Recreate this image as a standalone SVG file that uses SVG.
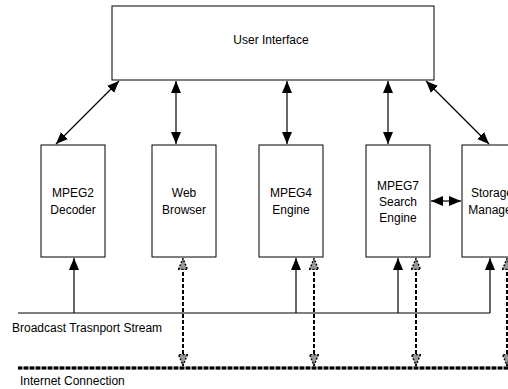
<svg xmlns="http://www.w3.org/2000/svg" width="508" height="389" viewBox="0 0 508 389">
<style>
.box{fill:#fff;stroke:#000;stroke-width:1}
.t{font-family:"Liberation Sans",Arial,sans-serif;font-size:12px;fill:#000;text-anchor:middle}
.tl{font-family:"Liberation Sans",Arial,sans-serif;font-size:12px;fill:#000}
.ln{stroke:#000;stroke-width:1.2;fill:none}
.dl{stroke:#888;stroke-width:3;fill:none}
.dd{stroke:#000;stroke-width:3;stroke-dasharray:4 2;fill:none}
.dv{stroke:#000;stroke-width:2;stroke-dasharray:4 2;fill:none}
</style>
<defs>
<marker id="ah" viewBox="0 0 12 10" refX="12" refY="5" markerWidth="12" markerHeight="10" markerUnits="userSpaceOnUse" orient="auto-start-reverse">
<path d="M0,0 L12,5 L0,10 Z" fill="#000"/>
</marker>
<marker id="dh" viewBox="0 0 12 10" refX="12" refY="5" markerWidth="12" markerHeight="10" markerUnits="userSpaceOnUse" orient="auto-start-reverse">
<path d="M0.5,0.5 L11.5,5 L0.5,9.5 Z" fill="#999" stroke="#000" stroke-width="1.5" stroke-dasharray="2 1.5"/>
</marker>
</defs>
<g id="user-interface">
<rect class="box" x="112" y="6" width="322" height="74"/>
<text class="t" x="271" y="44">User Interface</text>
</g>
<g id="mpeg2-decoder">
<rect class="box" x="41" y="145" width="64" height="112"/>
<text class="t" x="73" y="197">MPEG2</text>
<text class="t" x="73" y="214">Decoder</text>
</g>
<g id="web-browser">
<rect class="box" x="152" y="145" width="64" height="112"/>
<text class="t" x="184" y="197">Web</text>
<text class="t" x="184" y="214">Browser</text>
</g>
<g id="mpeg4-engine">
<rect class="box" x="259" y="145" width="64" height="112"/>
<text class="t" x="291" y="197">MPEG4</text>
<text class="t" x="291" y="214">Engine</text>
</g>
<g id="mpeg7-search-engine">
<rect class="box" x="366" y="145" width="64" height="112"/>
<text class="t" x="398" y="190">MPEG7</text>
<text class="t" x="398" y="206">Search</text>
<text class="t" x="398" y="222">Engine</text>
</g>
<g id="storage-manager">
<rect class="box" x="462" y="145" width="64" height="112"/>
<text class="t" x="492" y="197">Storage</text>
<text class="t" x="492" y="214">Manager</text>
</g>
<g id="labels">
<text class="tl" x="12" y="332">Broadcast Trasnport Stream</text>
<text class="tl" x="20" y="385">Internet Connection</text>
</g>
<g id="connectors">
<line class="ln" x1="56" y1="144" x2="119" y2="81" marker-start="url(#ah)" marker-end="url(#ah)"/>
<line class="ln" x1="176" y1="144" x2="176" y2="81" marker-start="url(#ah)" marker-end="url(#ah)"/>
<line class="ln" x1="287" y1="144" x2="287" y2="81" marker-start="url(#ah)" marker-end="url(#ah)"/>
<line class="ln" x1="388" y1="144" x2="388" y2="81" marker-start="url(#ah)" marker-end="url(#ah)"/>
<line class="ln" x1="489" y1="144" x2="426" y2="81" marker-start="url(#ah)" marker-end="url(#ah)"/>
<line class="ln" x1="431" y1="201" x2="461" y2="201" marker-start="url(#ah)" marker-end="url(#ah)"/>
<line class="ln" x1="18" y1="313" x2="490" y2="313"/>
<line class="ln" x1="74" y1="313" x2="74" y2="258" marker-end="url(#ah)"/>
<line class="ln" x1="296" y1="313" x2="296" y2="258" marker-end="url(#ah)"/>
<line class="ln" x1="398" y1="313" x2="398" y2="258" marker-end="url(#ah)"/>
<line class="ln" x1="490" y1="313" x2="490" y2="258" marker-end="url(#ah)"/>
<line class="dl" x1="18" y1="368" x2="508" y2="368"/>
<line class="dd" x1="18" y1="368" x2="508" y2="368"/>
<line class="dv" x1="183" y1="366" x2="183" y2="258" marker-start="url(#dh)" marker-end="url(#dh)"/>
<line class="dv" x1="314" y1="366" x2="314" y2="258" marker-start="url(#dh)" marker-end="url(#dh)"/>
<line class="dv" x1="416" y1="366" x2="416" y2="258" marker-start="url(#dh)" marker-end="url(#dh)"/>
<line class="dv" x1="507" y1="366" x2="507" y2="258" marker-start="url(#dh)" marker-end="url(#dh)"/>
</g>
</svg>
